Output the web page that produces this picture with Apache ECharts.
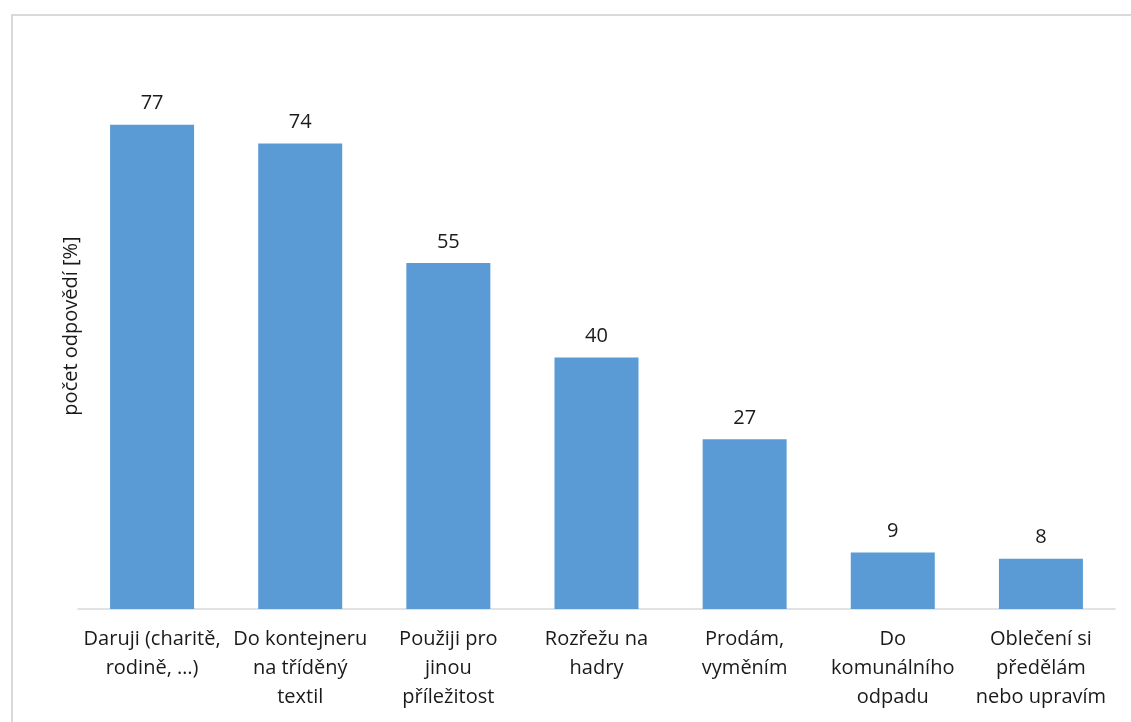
<!DOCTYPE html>
<html>
<head>
<meta charset="utf-8">
<script src="https://cdn.jsdelivr.net/npm/echarts@6/dist/echarts.min.js"></script>
<style>
  html, body { margin: 0; padding: 0; background: #fff; }
  #chart { width: 1131px; height: 722px; }
</style>
</head>
<body>
<div id="chart"></div>
<script>
const categories = [
  'Daruji (charitě,\nrodině, …)',
  'Do kontejneru\nna tříděný\ntextil',
  'Použiji pro\njinou\npříležitost',
  'Rozřežu na\nhadry',
  'Prodám,\nvyměním',
  'Do\nkomunálního\nodpadu',
  'Oblečení si\npředělám\nnebo upravím'
];
const values = [77, 74, 55, 40, 27, 9, 8];
const yName = 'počet odpovědí [%]';

const font = '"Open Sans", "Noto Sans", sans-serif';
const chart = echarts.init(document.getElementById('chart'));

chart.setOption({
  animation: false,
  textStyle: { fontFamily: font },
  graphic: [{
    type: 'rect',
    shape: { x: 12, y: 15, width: 1140, height: 730 },
    style: { fill: 'none', stroke: '#d9d9d9', lineWidth: 2 },
    silent: true
  }],
  grid: { left: 78, right: 16, top: 43, bottom: 113 },
  xAxis: {
    type: 'category',
    data: categories,
    axisLine: { lineStyle: { color: '#d9d9d9', width: 1.5 } },
    axisTick: { show: false },
    axisLabel: {
      interval: 0,
      margin: 16,
      color: '#1a1a1a',
      fontSize: 20,
      lineHeight: 29,
      fontFamily: font
    }
  },
  yAxis: {
    type: 'value',
    min: 0,
    max: 90,
    interval: 10,
    name: yName,
    nameLocation: 'middle',
    nameGap: -3,
    nameTextStyle: { color: '#1a1a1a', fontSize: 20, fontFamily: font },
    axisLine: { show: false },
    axisTick: { show: false },
    axisLabel: { show: false },
    splitLine: { show: false }
  },
  series: [{
    type: 'bar',
    data: values,
    barWidth: 84,
    itemStyle: { color: '#5b9bd5' },
    label: {
      show: true,
      position: 'top',
      distance: 11,
      color: '#1a1a1a',
      fontSize: 20,
      fontFamily: font
    }
  }]
});
</script>
</body>
</html>
